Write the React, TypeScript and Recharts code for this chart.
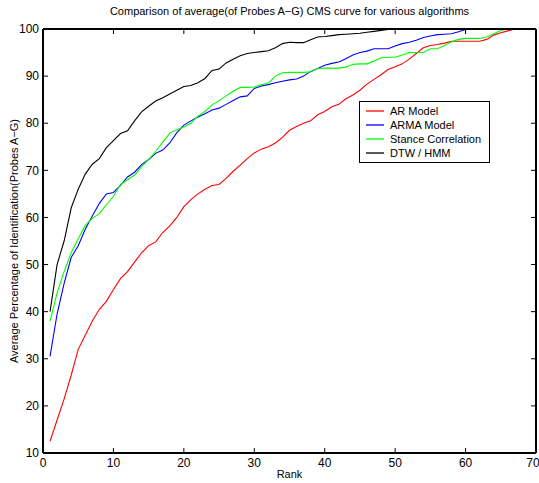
import React from 'react';
import { LineChart, Line, XAxis, YAxis, Legend } from 'recharts';

const ranks = Array.from({ length: 70 }, (_, i) => i + 1);

const arModel = [
  12.5, 17, 21.5, 26.5, 32, 35, 38, 40.5, 42.2, 44.7,
  47, 48.5, 50.5, 52.5, 54, 54.8, 56.8, 58.2, 60, 62.3,
  63.8, 65, 66, 66.8, 67, 68.3, 69.8, 71.1, 72.5, 73.7,
  74.5, 75, 75.8, 77, 78.5, 79.3, 80, 80.5, 81.8, 82.5,
  83.5, 84, 85.2, 86, 87, 88.3, 89.3, 90.3, 91.4, 92,
  92.6, 93.6, 94.8, 96, 96.5, 96.7, 97, 97.4, 97.4, 97.4,
  97.4, 97.4, 97.8, 98.7, 99.2, 99.6, 100, 100, 100, 100,
];

const armaModel = [
  30.5, 39.5, 46, 51.5, 54, 57.5, 60.3, 63, 65, 65.3,
  66.8, 68.6, 69.6, 71.2, 72.3, 73.6, 74.3, 75.8, 78, 79.6,
  80.5, 81.3, 82, 82.8, 83.2, 84, 84.8, 85.6, 85.8, 87.4,
  87.9, 88.2, 88.6, 88.9, 89.2, 89.4, 90, 91, 91.6, 92.3,
  92.7, 93, 93.7, 94.5, 95, 95.3, 95.8, 95.8, 95.8, 96.4,
  96.9, 97.2, 97.6, 98.2, 98.5, 98.8, 98.9, 99, 99.4, 99.9,
  100, 100, 100, 100, 100, 100, 100, 100, 100, 100,
];

const stanceCorrelation = [
  38, 44, 48.5, 52.5, 55.5, 58.3, 59.8, 60.8, 62.7, 64.5,
  67, 68, 69, 70.8, 72.3, 74, 76, 77.9, 78.6, 79.2,
  80, 81.5, 82.5, 83.9, 84.8, 85.8, 86.8, 87.6, 87.6, 87.7,
  88.2, 88.5, 90, 90.7, 90.8, 90.8, 90.8, 90.9, 91.6, 91.7,
  91.7, 91.7, 91.9, 92.5, 92.6, 92.6, 93.2, 93.9, 94, 94,
  94.5, 95, 95, 95, 95.8, 95.8, 96.5, 97.3, 97.8, 98,
  98, 98, 98.3, 99, 99.7, 100, 100, 100, 100, 100,
];

const dtwHmm = [
  40, 50, 55, 62, 66, 69.2, 71.3, 72.5, 74.8, 76.3,
  77.8, 78.4, 80.5, 82.4, 83.6, 84.7, 85.4, 86.2, 87, 87.8,
  88, 88.6, 89.5, 91.2, 91.5, 92.8, 93.6, 94.3, 94.8, 95,
  95.2, 95.4, 96, 96.9, 97.2, 97.1, 97.1, 97.7, 98.3, 98.4,
  98.6, 98.8, 98.9, 99, 99.1, 99.3, 99.5, 99.7, 99.9, 100,
  100, 100, 100, 100, 100, 100, 100, 100, 100, 100,
  100, 100, 100, 100, 100, 100, 100, 100, 100, 100,
];

const xTicks = [0, 10, 20, 30, 40, 50, 60, 70];
const yTicks = [10, 20, 30, 40, 50, 60, 70, 80, 90, 100];

const seriesNames = ['AR Model', 'ARMA Model', 'Stance Correlation', 'DTW / HMM'];
const seriesColors = ['#ff0000', '#0000ff', '#00ff00', '#000000'];
const seriesKeys = ['ar', 'arma', 'stance', 'dtw'];

const data = ranks.map((r, i) => ({
  rank: r,
  ar: arModel[i],
  arma: armaModel[i],
  stance: stanceCorrelation[i],
  dtw: dtwHmm[i],
}));

const FONT = '"Liberation Sans", Arial, Helvetica, sans-serif';

const EmptyTick = () => <g />;

const LegendBox = () => (
  <div
    style={{
      border: '1.5px solid #000',
      background: '#fff',
      padding: '2px 8px 2px 6px',
      fontFamily: FONT,
      fontSize: 11,
      color: '#000',
      lineHeight: '14px',
      whiteSpace: 'nowrap',
    }}
  >
    {seriesNames.map((n, i) => (
      <div key={n} style={{ display: 'flex', alignItems: 'center', height: 14 }}>
        <svg width={18} height={4} style={{ marginRight: 6, display: 'block' }}>
          <line x1={0} y1={2} x2={18} y2={2} stroke={seriesColors[i]} strokeWidth={1.3} />
        </svg>
        <span>{n}</span>
      </div>
    ))}
  </div>
);

export default function App() {
  return (
    <div style={{ position: 'absolute', left: 0, top: 0, width: 539, height: 483 }}>
      <div
        style={{
          position: 'absolute',
          left: 43,
          width: 493,
          top: 5,
          textAlign: 'center',
          fontFamily: FONT,
          fontSize: 11,
          color: '#000',
        }}
      >
        Comparison of average(of Probes A−G) CMS curve for various algorithms
      </div>
      <LineChart
        width={539}
        height={483}
        data={data}
        margin={{ top: 29, right: 3, left: 0, bottom: 0 }}
        style={{ position: 'absolute', left: 0, top: 0 }}
      >
        <XAxis
          xAxisId="b"
          dataKey="rank"
          type="number"
          domain={[0, 70]}
          ticks={xTicks}
          allowDataOverflow
          height={30}
          axisLine={{ stroke: '#000', strokeWidth: 2 }}
          tickLine={false}
          tickSize={0}
          tickMargin={5}
          tick={{ fill: '#000', fontSize: 12, fontFamily: FONT }}
          label={(p: any) => {
            const vb = p.viewBox || {};
            return (
              <text
                x={(vb.x || 0) + (vb.width || 0) / 2}
                y={(vb.y || 0) + 25}
                textAnchor="middle"
                fontSize={11}
                fontFamily={FONT}
                fill="#000"
              >
                Rank
              </text>
            );
          }}
        />
        <XAxis
          xAxisId="bm"
          dataKey="rank"
          type="number"
          domain={[0, 70]}
          ticks={xTicks}
          allowDataOverflow
          orientation="bottom"
          mirror
          axisLine={false}
          tick={EmptyTick}
          tickLine={{ stroke: '#000', strokeWidth: 1 }}
          tickSize={5}
        />
        <XAxis
          xAxisId="t"
          dataKey="rank"
          type="number"
          domain={[0, 70]}
          ticks={xTicks}
          allowDataOverflow
          orientation="top"
          mirror
          axisLine={{ stroke: '#000', strokeWidth: 2 }}
          tick={EmptyTick}
          tickLine={{ stroke: '#000', strokeWidth: 1 }}
          tickSize={5}
        />
        <YAxis
          yAxisId="l"
          type="number"
          domain={[10, 100]}
          ticks={yTicks}
          allowDataOverflow
          width={43}
          axisLine={{ stroke: '#000', strokeWidth: 2 }}
          tickLine={false}
          tickSize={0}
          tickMargin={4}
          tick={{ fill: '#000', fontSize: 12, fontFamily: FONT }}
          label={(p: any) => {
            const vb = p.viewBox || {};
            const cx = (vb.x || 0) + 14;
            const cy = (vb.y || 0) + (vb.height || 0) / 2;
            return (
              <text
                x={cx}
                y={cy}
                transform={`rotate(-90 ${cx} ${cy})`}
                textAnchor="middle"
                dominantBaseline="central"
                fontSize={11}
                fontFamily={FONT}
                fill="#000"
              >
                Average Percentage of Identification(Probes A−G)
              </text>
            );
          }}
        />
        <YAxis
          yAxisId="lm"
          type="number"
          domain={[10, 100]}
          ticks={yTicks}
          allowDataOverflow
          orientation="left"
          mirror
          axisLine={false}
          tick={EmptyTick}
          tickLine={{ stroke: '#000', strokeWidth: 1 }}
          tickSize={5}
        />
        <YAxis
          yAxisId="r"
          type="number"
          domain={[10, 100]}
          ticks={yTicks}
          allowDataOverflow
          orientation="right"
          mirror
          axisLine={{ stroke: '#000', strokeWidth: 2 }}
          tick={EmptyTick}
          tickLine={{ stroke: '#000', strokeWidth: 1 }}
          tickSize={5}
        />
        <Legend
          layout="vertical"
          align="center"
          verticalAlign="middle"
          content={() => <LegendBox />}
          wrapperStyle={{ left: 359, top: 101, width: 'auto' }}
        />
        {seriesKeys.map((k, i) => (
          <Line
            key={k}
            xAxisId="b"
            yAxisId="l"
            type="linear"
            dataKey={k}
            name={seriesNames[i]}
            stroke={seriesColors[i]}
            strokeWidth={1.1}
            dot={false}
            activeDot={false}
            isAnimationActive={false}
          />
        ))}
      </LineChart>
    </div>
  );
}
